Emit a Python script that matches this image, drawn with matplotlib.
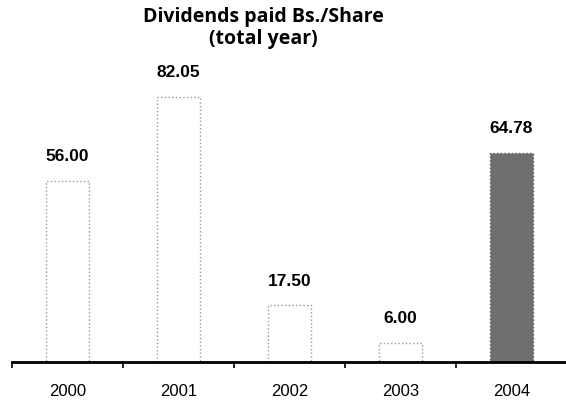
import numpy as np
import matplotlib
matplotlib.use("Agg")
import matplotlib.pyplot as plt

years = ["2000", "2001", "2002", "2003", "2004"]
dividends = [56.00, 82.05, 17.50, 6.00, 64.78]
bar_colors = ["white", "white", "white", "white", "#6f6f6f"]
edge_colors = ["#9a9a9a", "#9a9a9a", "#9a9a9a", "#9a9a9a", "#5a5a5a"]

fig = plt.figure(figsize=(5.66, 4.04), dpi=100)
ax = fig.add_axes([12 / 566, 42 / 404, 555 / 566, 302 / 404])

x = np.arange(len(years))
bars = ax.bar(x, dividends, width=0.38, color=bar_colors, edgecolor=edge_colors,
              linewidth=1.0, linestyle=":")

for b, v in zip(bars, dividends):
    ax.annotate(f"{v:.2f}", (b.get_x() + b.get_width() / 2, v),
                xytext=(0, 12), textcoords="offset points",
                ha="center", va="bottom", fontsize=12.5, fontweight="bold",
                family="Liberation Sans")

ax.set_xlim(-0.5, len(years) - 0.5)
ax.set_ylim(0, 93.5)

for s in ["top", "right", "left"]:
    ax.spines[s].set_visible(False)
ax.spines["bottom"].set_linewidth(2)
ax.set_yticks([])

ax.set_xticks(x)
ax.set_xticklabels(years, fontsize=12, family="Liberation Sans")
ax.tick_params(axis="x", which="major", length=0, pad=16)
ax.set_xticks(np.arange(len(years) + 1) - 0.5, minor=True)
ax.tick_params(axis="x", which="minor", length=4, width=1.2, direction="out")

fig.text(0.465, 0.982, "Dividends paid Bs./Share\n(total year)", ha="center", va="top",
         fontsize=14, fontweight="bold", family="Open Sans", linespacing=1.1)

fig.savefig("out.png", dpi=100)
